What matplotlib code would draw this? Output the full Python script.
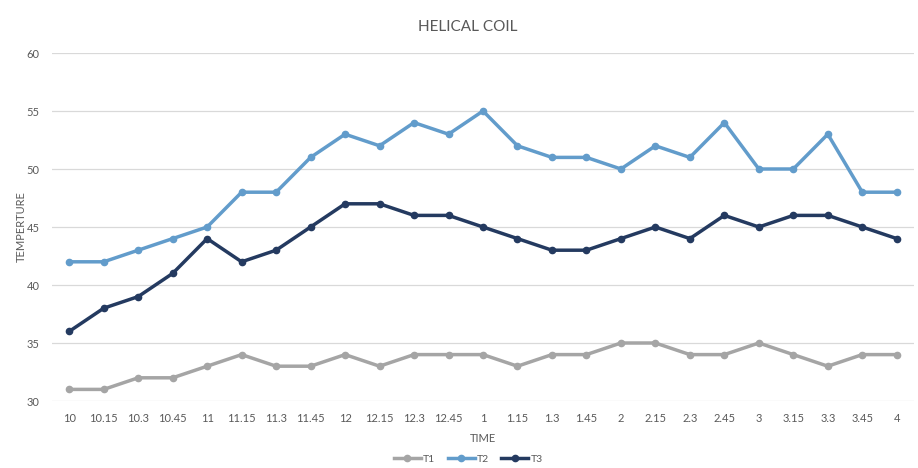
import matplotlib
matplotlib.use("Agg")
import matplotlib.pyplot as plt
from matplotlib.lines import Line2D

times = ["10", "10.15", "10.3", "10.45", "11", "11.15", "11.3", "11.45", "12",
         "12.15", "12.3", "12.45", "1", "1.15", "1.3", "1.45", "2", "2.15", "2.3",
         "2.45", "3", "3.15", "3.3", "3.45", "4"]
t1 = [31, 31, 32, 32, 33, 34, 33, 33, 34, 33, 34, 34, 34, 33, 34, 34, 35, 35, 34,
      34, 35, 34, 33, 34, 34]
t2 = [42, 42, 43, 44, 45, 48, 48, 51, 53, 52, 54, 53, 55, 52, 51, 51, 50, 52, 51,
      54, 50, 50, 53, 48, 48]
t3 = [36, 38, 39, 41, 44, 42, 43, 45, 47, 47, 46, 46, 45, 44, 43, 43, 44, 45, 44,
      46, 45, 46, 46, 45, 44]
yticks = [30, 35, 40, 45, 50, 55, 60]

plt.rcParams['font.family'] = ['Lato', 'DejaVu Sans']
text_col = "#595959"

fig = plt.figure(figsize=(9.18, 4.68), dpi=100)
ax = fig.add_axes([52 / 918, 1 - 401 / 468, 862 / 918, 348 / 468])

x = list(range(len(times)))
series = [("T1", t1, "#A5A5A5"), ("T2", t2, "#629CCB"), ("T3", t3, "#243A60")]
for name, vals, col in series:
    ax.plot(x, vals, color=col, lw=2.5, marker="o", ms=4.5, label=name,
            solid_joinstyle="round", zorder=3)

ax.set_xlim(-0.5, len(times) - 0.5)
ax.set_ylim(30, 60)
ax.set_yticks(yticks)
ax.set_xticks(x)
ax.set_xticklabels(times)
ax.grid(axis="y", color="#D9D9D9", lw=0.9)
ax.set_axisbelow(True)
for s in ax.spines.values():
    s.set_visible(False)
ax.tick_params(axis="both", length=0, labelsize=8, colors=text_col)
ax.tick_params(axis="x", pad=9)
ax.tick_params(axis="y", pad=9)

ax.set_xlabel("TIME", fontsize=8, color=text_col, labelpad=6)
ax.set_ylabel("TEMPERTURE", fontsize=8, color=text_col, labelpad=0)
fig.text(0.51, 1 - 27 / 468, "HELICAL COIL", ha="center", va="center",
         fontsize=11, color=text_col)

handles = [Line2D([0], [0], color=c, lw=2.5, marker="o", ms=4.5) for _, _, c in series]
fig.legend(handles, [n for n, _, _ in series], loc="center",
           bbox_to_anchor=(0.51, 1 - 459 / 468), ncol=3, frameon=False,
           fontsize=7.5, labelcolor=text_col, handlelength=2.6, handletextpad=0.2,
           columnspacing=1.2)

fig.savefig("out.png", dpi=100)
